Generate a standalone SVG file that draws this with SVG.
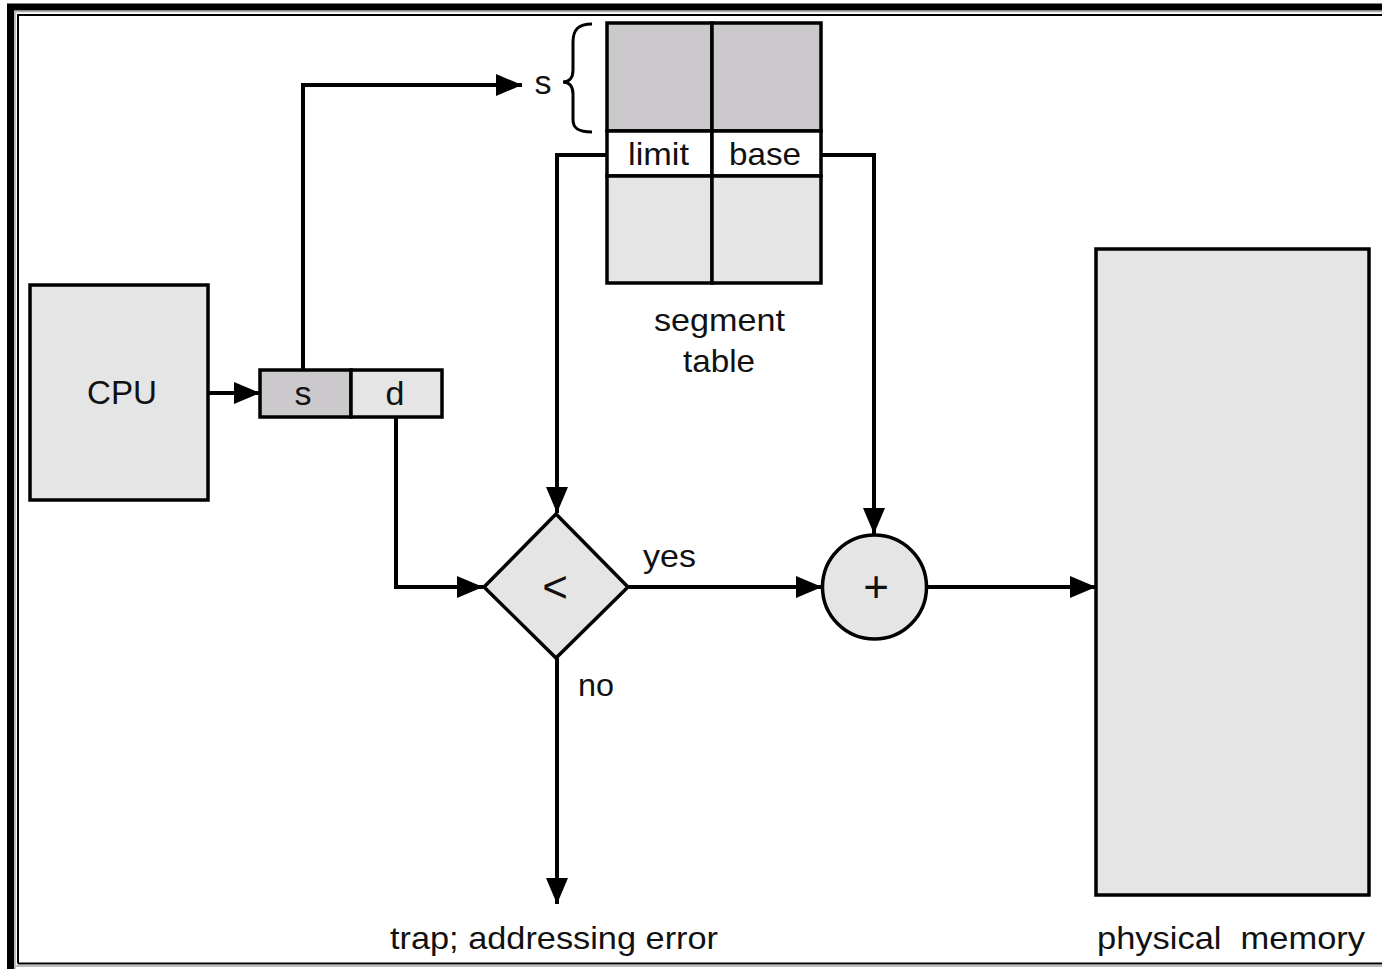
<svg xmlns="http://www.w3.org/2000/svg" width="1382" height="969" viewBox="0 0 1382 969">
<defs>
<marker id="ah" markerUnits="userSpaceOnUse" markerWidth="28" markerHeight="22" refX="26" refY="11" orient="auto">
<path d="M0,0 L26,11 L0,22 z" fill="#000"/>
</marker>
<style>
.box{stroke:#000;stroke-width:3.5}
.lt{fill:#e5e5e5}
.dk{fill:#ccc9cc}
.wh{fill:#fff}
.arr{fill:none;stroke:#000;stroke-width:4;marker-end:url(#ah)}
text{font-family:"Liberation Sans",Arial,Helvetica,sans-serif;font-size:32px;fill:#111;text-anchor:middle}
.op{font-size:44px}
.ch{font-size:34px}
</style>
</defs>
<rect width="1382" height="969" fill="#fff"/>
<g id="frame" fill="none">
<path d="M10.5,969 V7 H1382" stroke="#000" stroke-width="7"/>
<path d="M15,969 V11.5 H1382" stroke="#aaa" stroke-width="1.5"/>
<path d="M15,966 H1382" stroke="#aaa" stroke-width="1.5"/>
<path d="M18,963.5 V15 H1382 M18,963.5 H1382" stroke="#000" stroke-width="2"/>
</g>
<g id="connectors">
<line class="arr" x1="208" y1="393" x2="260" y2="393"/>
<polyline class="arr" points="303,370 303,85 522,85"/>
<polyline class="arr" points="396,417 396,587 483,587"/>
<polyline class="arr" points="607,155 557,155 557,513"/>
<polyline class="arr" points="821,155 874,155 874,534"/>
<line class="arr" x1="629" y1="587" x2="822" y2="587"/>
<line class="arr" x1="927" y1="587" x2="1096" y2="587"/>
<line class="arr" x1="557" y1="658" x2="557" y2="904"/>
<text x="669.5" y="567" textLength="53" lengthAdjust="spacingAndGlyphs">yes</text>
<text x="596" y="696" textLength="36" lengthAdjust="spacingAndGlyphs">no</text>
</g>
<g id="cpu">
<rect class="box lt" x="30" y="285" width="178" height="215"/>
<text x="122" y="404" style="font-size:33px" textLength="70" lengthAdjust="spacingAndGlyphs">CPU</text>
</g>
<g id="address">
<rect class="box dk" x="260" y="370" width="91" height="47"/>
<rect class="box lt" x="351" y="370" width="91" height="47"/>
<text class="ch" x="303" y="405">s</text>
<text class="ch" x="395" y="405">d</text>
</g>
<g id="s-index">
<text class="ch" x="543" y="94">s</text>
<path d="M592,24 C578,24 573,30 573,42 L573,70 C573,78 569,82 563,82 C569,82 573,86 573,94 L573,120 C573,128 578,132 592,132" fill="none" stroke="#000" stroke-width="3"/>
</g>
<g id="segment-table">
<rect class="box dk" x="607" y="23" width="105" height="108"/>
<rect class="box dk" x="712" y="23" width="109" height="108"/>
<rect class="box wh" x="607" y="131" width="105" height="45"/>
<rect class="box wh" x="712" y="131" width="109" height="45"/>
<rect class="box lt" x="607" y="176" width="105" height="107"/>
<rect class="box lt" x="712" y="176" width="109" height="107"/>
<text x="658.5" y="165" textLength="61" lengthAdjust="spacingAndGlyphs">limit</text>
<text x="765" y="165" textLength="72" lengthAdjust="spacingAndGlyphs">base</text>
<text x="719.5" y="331" textLength="131" lengthAdjust="spacingAndGlyphs">segment</text>
<text x="719" y="372" textLength="72" lengthAdjust="spacingAndGlyphs">table</text>
</g>
<g id="compare">
<polygon class="box lt" points="556,514 628,587 556,658 484,587"/>
<text class="op" x="555" y="602">&lt;</text>
</g>
<g id="adder">
<circle class="box lt" cx="874.5" cy="587" r="52"/>
<text class="op" x="876" y="602">+</text>
</g>
<g id="physical-memory">
<rect class="box lt" x="1096" y="249" width="273" height="646"/>
<text x="1231" y="949" xml:space="preserve" textLength="268" lengthAdjust="spacingAndGlyphs">physical  memory</text>
</g>
<g id="trap">
<text x="554" y="949" textLength="328" lengthAdjust="spacingAndGlyphs">trap; addressing error</text>
</g>
</svg>
